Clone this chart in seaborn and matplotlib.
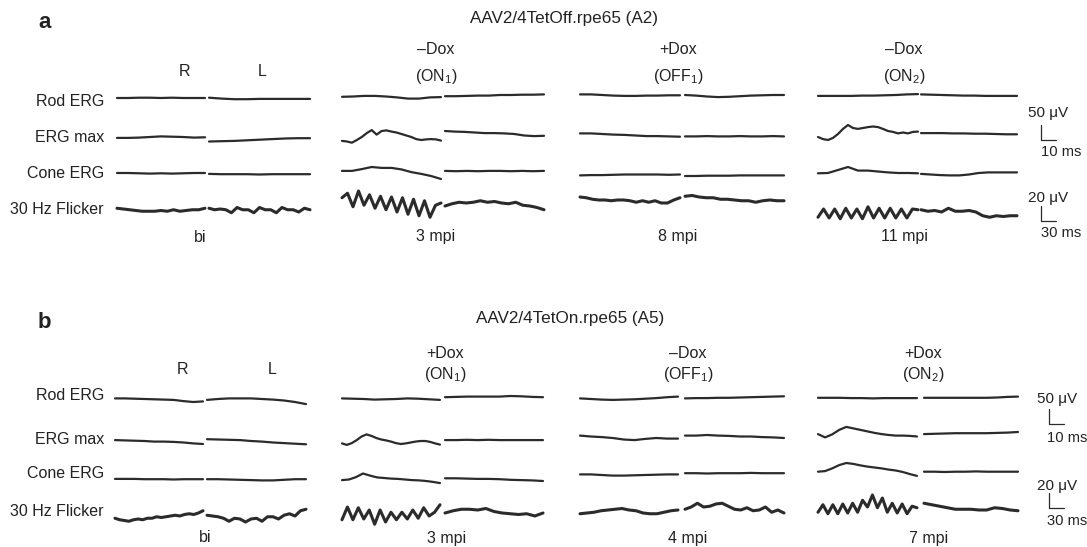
import numpy as np
import pandas as pd
import matplotlib.pyplot as plt
import seaborn as sns

sns.set_style('white')
plt.rcParams['font.family'] = ['Liberation Sans', 'DejaVu Sans']
plt.rcParams['mathtext.default'] = 'regular'
plt.rcParams['font.size'] = 11.5

# --- labels ---
row_labels = ['Rod ERG', 'ERG max', 'Cone ERG', '30 Hz Flicker']
eye_labels = ['R', 'L']

a_title = 'AAV2/4TetOff.rpe65 (A2)'
a_dox = ['–Dox', '+Dox', '–Dox']
a_state = ['(ON$_1$)', '(OFF$_1$)', '(ON$_2$)']
a_times = ['bi', '3 mpi', '8 mpi', '11 mpi']

b_title = 'AAV2/4TetOn.rpe65 (A5)'
b_dox = ['+Dox', '–Dox', '+Dox']
b_state = ['(ON$_1$)', '(OFF$_1$)', '(ON$_2$)']
b_times = ['bi', '3 mpi', '4 mpi', '7 mpi']

# scale bars: (amplitude in uV, time in ms)
erg_bar = (50, 10)
flicker_bar = (20, 30)

# --- traces (uV), order: bi R, bi L, t1 R, t1 L, t2 R, t2 L, t3 R, t3 L ---
a_rod = [
    [0, 0, 1, 1, 0, 1, 0, 0, 0],
    [1, -2, -4, -4, -3, -3, -3, -3, -3],
    [4, 5, 7, 7, 5, 2, -2, -2, 2, 3],
    [6, 6, 7, 8, 8, 10, 10, 11, 11, 12],
    [12, 12, 10, 8, 7, 7, 8, 8, 9, 9],
    [10, 8, 5, 3, 4, 6, 8, 9, 10, 10],
    [7, 7, 7, 7, 8, 8, 9, 10, 12, 13],
    [12, 11, 10, 9, 8, 8, 7, 7, 7, 7],
]
a_max = [
    [-3, -3, -2, 0, 2, 1, 0, -2, -1],
    [-15, -14, -13, -11, -9, -7, -5, -4, -4],
    [-13, -15, -19, -10, 0, 13, 23, 8, 20, 22, 18, 15, 10, 5, 0, -7, -10, -8, -7, -8, -12],
    [20, 18, 17, 15, 13, 13, 12, 10, 5, 3, 4],
    [12, 12, 10, 8, 7, 5, 3, 3, 2, 1],
    [2, 2, 3, 2, 2, 3, 2, 2, 3, 2],
    [0, -7, -10, -3, 10, 27, 40, 30, 27, 30, 33, 35, 33, 27, 20, 17, 12, 15, 12, 17, 18],
    [13, 13, 13, 12, 12, 11, 11, 10, 9, 9],
]
a_cone = [
    [0, 0, -1, -2, -1, -2, -1, 0, 0],
    [-3, -4, -4, -4, -5, -4, -4, -4, -4],
    [7, 7, 13, 20, 17, 17, 12, 3, -3, -10, -20],
    [7, 6, 7, 6, 7, 7, 6, 7, 6, 7],
    [-8, -7, -7, -6, -5, -5, -5, -5, -6, -5],
    [-10, -10, -9, -9, -9, -8, -8, -8, -8, -8],
    [-1, 0, 10, 20, 8, 8, 5, 2, 0, 0, -1],
    [-3, -5, -7, -8, -8, -5, 0, 2, 2, 2, 2],
]
a_flicker = [
    [1, 0, -1, -2, -3, -3, -3, -2, -3, -1, -3, -2, -1, -1, 1],
    [1, -1, 0, -1, -5, 2, -1, -1, -5, 2, -1, -1, -5, 2, -1, -1, -4, 1, -1],
    [15, 21, 3, 24, 5, 19, 1, 17, -1, 16, -4, 15, -7, 13, -9, 11, -11, 5, 8],
    [4, 7, 9, 8, 9, 11, 9, 10, 8, 7, 9, 5, 4, 2, -1],
    [16, 15, 13, 12, 12, 11, 12, 12, 11, 9, 11, 9, 11, 8, 8, 12, 15],
    [17, 18, 16, 15, 15, 13, 13, 12, 11, 11, 9, 11, 12, 11, 11],
    [-11, 0, -12, 0, -13, 1, -12, 0, -13, 3, -12, 1, -12, 1, -12, 0, -12, 0, -1],
    [-1, -3, -2, -4, 1, -3, -3, -2, -4, -9, -11, -9, -10, -9, -9],
]

b_rod = [
    [2, 2, 1, 0, -1, -2, -3, -7, -10, -8],
    [-3, 0, 2, 2, 2, 0, -2, -5, -10, -17],
    [2, 1, 0, -2, -1, 0, 2, 1, -1, -3],
    [6, 7, 8, 8, 8, 8, 10, 9, 7, 6],
    [2, 0, -2, -3, -2, -1, 1, 3, 6, 8],
    [2, 3, 3, 4, 4, 5, 6, 7, 8, 9],
    [4, 4, 4, 3, 3, 2, 3, 3, 3, 3],
    [4, 4, 4, 4, 4, 4, 4, 5, 7, 8],
]
b_max = [
    [3, 2, 1, 0, -2, -2, -3, -5, -8, -10],
    [6, 5, 4, 3, 0, -2, -5, -7, -9, -11],
    [-8, -13, -7, 3, 15, 22, 17, 10, 5, 2, -2, -7, -10, -8, -5, -2, 0, 0, -3, -8, -12],
    [3, 3, 4, 3, 4, 3, 3, 3, 3, 3],
    [18, 15, 13, 10, 5, 3, 7, 10, 8, 8],
    [18, 18, 20, 18, 17, 15, 15, 13, 12, 10],
    [23, 12, 22, 37, 47, 42, 37, 32, 27, 23, 20, 18, 18, 17, 15],
    [23, 24, 25, 26, 26, 26, 26, 27, 28, 30],
]
b_cone = [
    [-3, -3, -3, -4, -4, -4, -5, -4, -4, -4],
    [-4, -4, -5, -6, -7, -8, -8, -6, -4, -4],
    [-7, -5, 3, 15, 8, 2, 0, -2, -3, -5, -7, -8, -10, -13, -17],
    [-1, -1, -2, -3, -3, -4, -6, -7, -8, -10],
    [12, 12, 10, 8, 8, 9, 10, 11, 12, 12],
    [16, 16, 15, 16, 16, 16, 17, 16, 16, 16],
    [21, 23, 32, 43, 50, 47, 42, 38, 35, 32, 28, 25, 20, 13, 7],
    [21, 21, 20, 21, 21, 22, 21, 21, 21, 21],
]
b_flicker = [
    [-3, -5, -6, -7, -5, -4, -5, -3, -3, -1, -2, -1, 0, 1, 0, 2, 3, 2, 4, 7],
    [1, 0, -1, -3, -7, -3, -4, -8, -4, -3, -7, -1, -1, -4, 1, 3, 0, 7, 9],
    [-5, 12, -5, 11, -4, 8, -11, 8, -8, 5, -5, 5, -4, 8, -3, 11, 0, 5, 15],
    [4, 7, 9, 9, 8, 10, 6, 4, 3, 2, 3, 0, 4],
    [3, 4, 5, 7, 8, 9, 10, 8, 7, 4, 3, 3, 5, 7, 8],
    [9, 12, 17, 12, 13, 16, 17, 13, 9, 8, 11, 7, 8, 12, 5, 8, 4],
    [5, 15, 3, 15, 3, 16, 4, 17, 5, 21, 12, 28, 11, 24, 5, 17, 4, 16, 3, 13, 11],
    [17, 15, 13, 11, 9, 9, 9, 8, 8, 11, 10, 8, 7],
]

# --- layout (pixel canvas) ---
W, H = 1087, 547
BAR_PX = 15
INK = '#2b2b2b'

panels = [
    dict(letter='a', letter_xy=(38, 22), title=a_title, title_xy=(564, 18),
         traces=[a_rod, a_max, a_cone, a_flicker], base=[98, 137, 173, 209],
         spans=[[(117, 205), (209, 310)], [(342, 441), (445, 544)],
                [(580, 680), (685, 784)], [(818, 918), (921, 1017)]],
         eye_x=[185, 262], eye_y=71, label_y=[101, 138, 174, 210],
         head_x=[436, 678, 904], dox=a_dox, state=a_state, dox_y=50, state_y=77,
         time_x=[200, 436, 678, 904], times=a_times, time_y=237,
         bars=[(1041, 140, 1028, 113, 1041, 152), (1041, 221, 1028, 198, 1041, 233)]),
    dict(letter='b', letter_xy=(38, 323), title=b_title, title_xy=(570, 318),
         traces=[b_rod, b_max, b_cone, b_flicker], base=[399, 441, 478, 516],
         spans=[[(115, 203), (207, 306)], [(342, 440), (445, 543)],
                [(580, 678), (685, 784)], [(818, 917), (924, 1018)]],
         eye_x=[183, 272], eye_y=370, label_y=[396, 440, 474, 512],
         head_x=[445, 688, 923], dox=b_dox, state=b_state, dox_y=353, state_y=375,
         time_x=[205, 447, 688, 929], times=b_times, time_y=538,
         bars=[(1049, 424, 1037, 399, 1047, 438), (1049, 508, 1037, 486, 1047, 521)]),
]

px_per_uv = [BAR_PX / erg_bar[0]] * 3 + [BAR_PX / flicker_bar[0]]

records = []
tid = 0
for p in panels:
    for r, row in enumerate(p['traces']):
        for k, vals in enumerate(row):
            x0, x1 = p['spans'][k // 2][k % 2]
            xs = np.linspace(x0, x1, len(vals))
            ys = p['base'][r] - np.array(vals) * px_per_uv[r]
            for x, y in zip(xs, ys):
                records.append({'trace': tid, 'x': x, 'y': y,
                                'kind': 'flicker' if r == 3 else 'erg'})
            tid += 1
df = pd.DataFrame(records)

fig = plt.figure(figsize=(W / 100, H / 100), dpi=100)
ax = fig.add_axes([0, 0, 1, 1])

line_kw = dict(units='trace', estimator=None, sort=False, color=INK, ax=ax,
               solid_joinstyle='round', solid_capstyle='round')
sns.lineplot(data=df[df['kind'] == 'erg'], x='x', y='y', lw=1.6, **line_kw)
sns.lineplot(data=df[df['kind'] == 'flicker'], x='x', y='y', lw=2.2, **line_kw)

ax.set_xlim(0, W)
ax.set_ylim(H, 0)
ax.axis('off')

txt = dict(color='#222222', va='center')
for p in panels:
    ax.text(*p['letter_xy'], p['letter'], fontsize=16, fontweight='bold', ha='left', **txt)
    ax.text(*p['title_xy'], p['title'], fontsize=12.3, ha='center', **txt)
    for x, lab in zip(p['eye_x'], eye_labels):
        ax.text(x, p['eye_y'], lab, ha='center', **txt)
    for y, lab in zip(p['label_y'], row_labels):
        ax.text(104, y, lab, ha='right', **txt)
    for x, d, s in zip(p['head_x'], p['dox'], p['state']):
        ax.text(x, p['dox_y'], d, ha='center', **txt)
        ax.text(x, p['state_y'], s, ha='center', **txt)
    for x, t in zip(p['time_x'], p['times']):
        ax.text(x, p['time_y'], t, ha='center', **txt)
    for (cx, cy, ux, uy, tx, ty), (amp, dur) in zip(p['bars'], [erg_bar, flicker_bar]):
        ax.plot([cx, cx, cx + BAR_PX], [cy - BAR_PX, cy, cy], color=INK, lw=0.9)
        ax.text(ux, uy, f'{amp} μV', fontsize=11, ha='left', **txt)
        ax.text(tx, ty, f'{dur} ms', fontsize=10.6, ha='left', **txt)

fig.savefig('out.png', dpi=100)
